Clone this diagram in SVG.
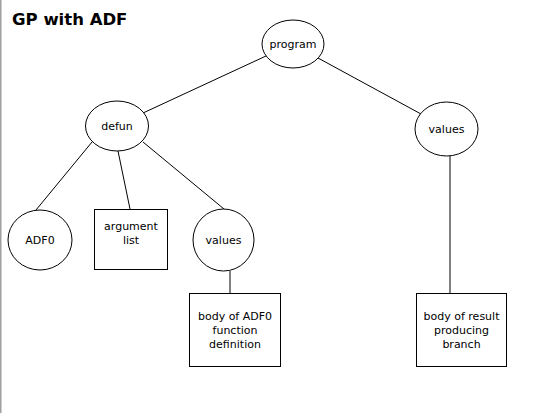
<svg xmlns="http://www.w3.org/2000/svg" width="560" height="413" viewBox="0 0 560 413">
  <style>
    .shape { fill: #ffffff; stroke: #000000; stroke-width: 1; }
    .edge { stroke: #000000; stroke-width: 1; fill: none; }
    .label { font-family: "DejaVu Sans", Verdana, sans-serif; font-size: 11px; fill: #000000; text-anchor: middle; }
    .title { font-family: "DejaVu Sans", Verdana, sans-serif; font-size: 16.5px; font-weight: bold; fill: #000000; }
  </style>
  <rect x="0" y="0" width="560" height="413" fill="#ffffff"/>
  <rect x="0" y="0" width="1.5" height="413" fill="#a0a0a0"/>
  <text class="title" x="12" y="25">GP with ADF</text>

  <g id="connectors">
    <line class="edge" x1="266" y1="56" x2="143" y2="113"/>
    <line class="edge" x1="318" y1="58" x2="421" y2="114"/>
    <line class="edge" x1="92" y1="142" x2="36" y2="210"/>
    <line class="edge" x1="118" y1="151" x2="130" y2="209"/>
    <line class="edge" x1="143" y1="142" x2="224" y2="209"/>
    <line class="edge" x1="230" y1="271" x2="230" y2="293"/>
    <line class="edge" x1="450" y1="156" x2="450" y2="293"/>
  </g>

  <g id="program">
    <ellipse class="shape" cx="293" cy="44" rx="31" ry="24"/>
    <text class="label" x="293" y="48">program</text>
  </g>
  <g id="defun">
    <ellipse class="shape" cx="117" cy="126" rx="31.5" ry="25"/>
    <text class="label" x="117" y="130">defun</text>
  </g>
  <g id="values-result">
    <ellipse class="shape" cx="446.5" cy="129" rx="31.5" ry="27"/>
    <text class="label" x="446.5" y="133">values</text>
  </g>
  <g id="adf0">
    <ellipse class="shape" cx="40" cy="240" rx="32" ry="30"/>
    <text class="label" x="40" y="244">ADF0</text>
  </g>
  <g id="argument-list">
    <rect class="shape" x="94.5" y="209.5" width="73" height="60"/>
    <text class="label" x="131" y="230">argument</text>
    <text class="label" x="131" y="244">list</text>
  </g>
  <g id="values-adf">
    <ellipse class="shape" cx="223.5" cy="240" rx="30.5" ry="31"/>
    <text class="label" x="223.5" y="244">values</text>
  </g>
  <g id="adf0-body">
    <rect class="shape" x="189.5" y="293.5" width="91" height="73"/>
    <text class="label" x="235" y="320">body of ADF0</text>
    <text class="label" x="235" y="334">function</text>
    <text class="label" x="235" y="348">definition</text>
  </g>
  <g id="result-body">
    <rect class="shape" x="416.5" y="293.5" width="90" height="73"/>
    <text class="label" x="461.5" y="320">body of result</text>
    <text class="label" x="461.5" y="334">producing</text>
    <text class="label" x="461.5" y="348">branch</text>
  </g>
</svg>
